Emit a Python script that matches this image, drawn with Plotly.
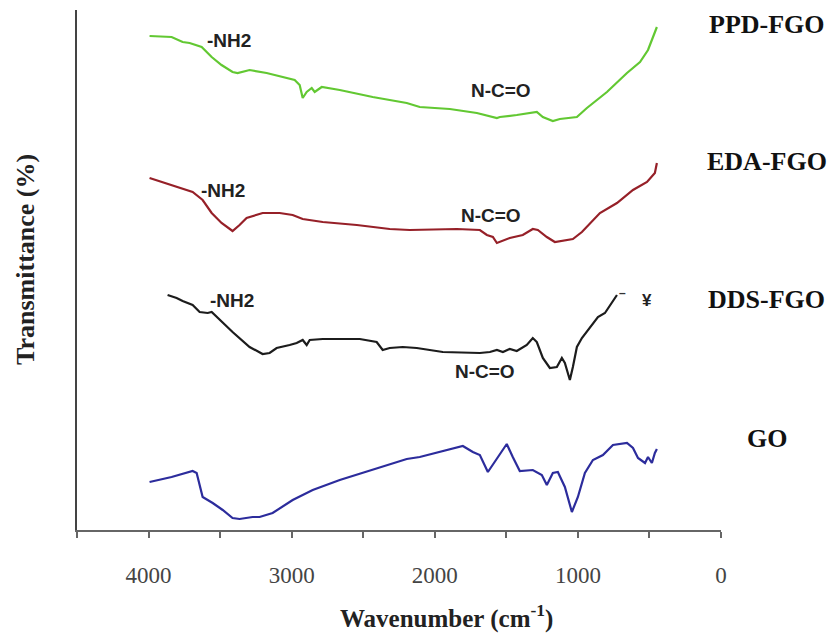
import plotly.graph_objects as go

# ---- data (wavenumber cm^-1, transmittance in arbitrary offset units) ----
ppd_wn = [3993, 3839, 3762, 3713, 3629, 3559, 3490, 3413, 3378, 3294, 3175, 3063, 2979, 2944,
          2923, 2895, 2860, 2839, 2790, 2664, 2434, 2196, 2105, 1895, 1706, 1566, 1545, 1427,
          1315, 1287, 1245, 1175, 1126, 1007, 937, 797, 657, 566, 510, 476, 448]
ppd_t = [494, 493, 488, 487, 483, 473, 465, 458, 457, 460, 457, 453, 450, 445,
         432, 438, 442, 438, 443, 440, 433, 427, 423, 421, 417, 412, 413, 415,
         417, 418, 413, 409, 411, 413, 422, 438, 457, 468, 480, 493, 503]

eda_wn = [3993, 3839, 3692, 3622, 3559, 3490, 3413, 3364, 3315, 3203, 3084, 2993, 2923, 2783,
          2545, 2315, 2175, 1846, 1685, 1636, 1594, 1566, 1476, 1385, 1315, 1280, 1217, 1161,
          1035, 972, 846, 727, 615, 517, 462, 448]
eda_t = [352, 345, 338, 330, 317, 307, 299, 305, 312, 317, 317, 315, 311, 308,
         305, 301, 300, 301, 300, 295, 293, 287, 292, 295, 301, 300, 293, 288,
         291, 298, 317, 327, 340, 348, 357, 367]

dds_wn = [3867, 3804, 3762, 3727, 3692, 3643, 3587, 3559, 3524, 3413, 3294, 3203, 3154, 3105,
          3014, 2965, 2923, 2895, 2874, 2783, 2524, 2406, 2364, 2315, 2224, 2126, 1944, 1685,
          1615, 1566, 1524, 1476, 1427, 1357, 1315, 1287, 1245, 1196, 1147, 1112, 1091, 1056,
          1035, 1007, 972, 916, 860, 811, 762, 727]
dds_t = [235, 232, 229, 227, 225, 218, 217, 218, 213, 198, 183, 176, 177, 182,
         185, 187, 190, 185, 190, 191, 191, 188, 180, 182, 183, 182, 178, 177,
         178, 180, 178, 181, 179, 185, 192, 188, 172, 162, 163, 172, 167, 150,
         163, 183, 192, 203, 213, 217, 227, 235]

go_wn = [3993, 3839, 3692, 3664, 3622, 3552, 3482, 3413, 3364, 3273, 3224, 3133, 2993, 2853,
         2664, 2434, 2196, 2105, 1944, 1804, 1734, 1685, 1629, 1566, 1497, 1455, 1406, 1315,
         1252, 1217, 1175, 1140, 1091, 1042, 1000, 951, 895, 825, 755, 657, 615, 580, 531,
         510, 483, 462, 448]
go_t = [48, 53, 59, 57, 33, 27, 20, 12, 11, 13, 13, 17, 30, 40,
        50, 60, 71, 73, 79, 84, 78, 75, 58, 72, 86, 73, 59, 60,
        55, 45, 57, 58, 43, 18, 33, 57, 70, 75, 85, 87, 82, 72, 67,
        73, 67, 77, 81]

series_names = ["PPD-FGO", "EDA-FGO", "DDS-FGO", "GO"]
series_colors = ["#62c832", "#962028", "#1c1c1c", "#2c2c9c"]
label_y = [506, 369, 231, 92]

tick_vals = [4000, 3000, 2000, 1000, 0]
tick_text = ["4000", "3000", "2000", "1000", "0"]

# group annotations: (text, wavenumber, y)
peak_labels = [
    ("-NH2", 3440, 490), ("N-C=O", 1538, 440),
    ("-NH2", 3483, 340), ("N-C=O", 1608, 315),
    ("-NH2", 3420, 230), ("N-C=O", 1650, 159),
]

fig = go.Figure()
data = [(ppd_wn, ppd_t), (eda_wn, eda_t), (dds_wn, dds_t), (go_wn, go_t)]
for (xs, ys), name, col in zip(data, series_names, series_colors):
    fig.add_trace(go.Scatter(x=xs, y=ys, mode="lines", name=name,
                             line=dict(color=col, width=2.2), showlegend=False))

annotations = []
for txt, wx, wy in peak_labels:
    annotations.append(dict(x=wx, y=wy, xref="x", yref="y", text="<b>%s</b>" % txt,
                            showarrow=False,
                            font=dict(family="Liberation Sans", size=19, color="#222222"),
                            xanchor="center", yanchor="middle"))
for name, ly in zip(series_names, label_y):
    annotations.append(dict(x=1.071, y=ly, xref="paper", yref="y", text="<b>%s</b>" % name,
                            showarrow=False, xanchor="center", yanchor="middle",
                            font=dict(family="Liberation Serif", size=26, color="#111111")))
# stray marks near DDS-FGO end
annotations.append(dict(x=690, y=237, xref="x", yref="y", text="<b>–</b>", showarrow=False,
                        font=dict(family="Liberation Sans", size=12, color="#333333")))
annotations.append(dict(x=517, y=230, xref="x", yref="y", text="<b>¥</b>", showarrow=False,
                        font=dict(family="Liberation Sans", size=17, color="#222222")))
# axis titles
annotations.append(dict(x=0.573, y=-0.167, xref="paper", yref="paper",
                        text="<b>Wavenumber (cm<sup>-1</sup>)</b>", showarrow=False,
                        xanchor="center", yanchor="middle",
                        font=dict(family="Liberation Serif", size=25, color="#222222")))
annotations.append(dict(x=-0.081, y=0.521, xref="paper", yref="paper",
                        text="<b>Transmittance (%)</b>", showarrow=False, textangle=-90,
                        xanchor="center", yanchor="middle",
                        font=dict(family="Liberation Serif", size=26, color="#222222")))

fig.update_layout(
    width=833, height=636,
    margin=dict(l=77, r=112, t=10, b=106),
    paper_bgcolor="white", plot_bgcolor="white",
    annotations=annotations,
    xaxis=dict(range=[4500, 0], showgrid=False, zeroline=False, showline=True,
               linecolor="#666666", linewidth=2, ticks="outside", ticklen=6,
               tickcolor="#666666", tickwidth=1.5,
               tickvals=tick_vals, ticktext=tick_text, ticklabelstandoff=17,
               minor=dict(ticks="outside", ticklen=6, tickcolor="#666666", tickwidth=1.5,
                          dtick=500, tick0=0, showgrid=False),
               tickfont=dict(family="Liberation Serif", size=23, color="#444444")),
    yaxis=dict(range=[0, 520], showgrid=False, zeroline=False, showline=True,
               linecolor="#444444", linewidth=2, showticklabels=False, ticks=""),
)

fig.write_html("out.html")
